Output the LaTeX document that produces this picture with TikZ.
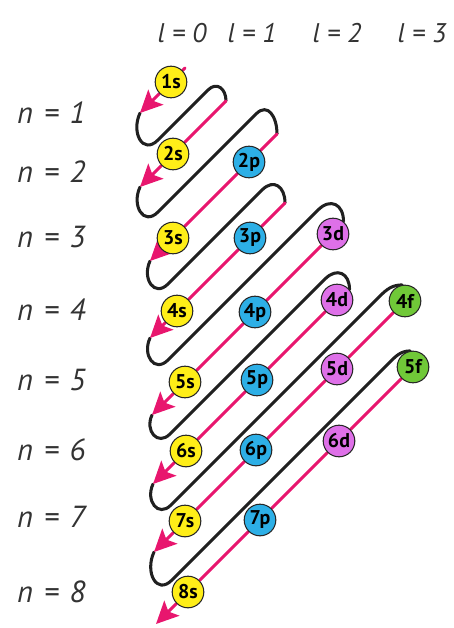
\documentclass[tikz,border=0pt]{standalone}
\usepackage{fontspec}
\setmainfont{PT Sans}
\usetikzlibrary{arrows.meta,backgrounds}

\definecolor{orbpink}{RGB}{232,22,110}
\definecolor{orbblack}{RGB}{32,32,32}
\definecolor{sfill}{RGB}{255,238,24}
\definecolor{pfill}{RGB}{45,175,230}
\definecolor{dfill}{RGB}{222,112,232}
\definecolor{ffill}{RGB}{112,200,56}

\newcommand{\widesp}{\spaceskip=0.36em\relax}

\tikzset{
  orb/.style={circle, draw=black!85, line width=0.9pt, minimum size=27pt,
    inner sep=0pt, font=\fontsize{17}{17}\selectfont\bfseries},
  sorb/.style={orb, fill=sfill},
  porb/.style={orb, fill=pfill},
  dorb/.style={orb, fill=dfill},
  forb/.style={orb, fill=ffill},
  pinkpath/.style={draw=orbpink, line width=2.7pt, line cap=round},
  pinkarrow/.style={pinkpath, -{Stealth[length=19pt,width=18pt,inset=4pt]}},
  blackpath/.style={draw=orbblack, line width=2.6pt, line cap=round},
  lbl/.style={font=\fontsize{23}{23}\selectfont\itshape, text=black!80, inner sep=0pt},
  nlbl/.style={lbl, anchor=west, font={\fontsize{26}{26}\selectfont\itshape\widesp}},
}

\begin{document}
\begin{tikzpicture}[x=0.03cm, y=0.03cm]
    \useasboundingbox (0,0) rectangle (453,-628);

    % quantum number labels
    \node[lbl] (l0) at (182,-33) {l = 0};
    \node[lbl] (l1) at (252,-33) {l = 1};
    \node[lbl] (l2) at (337,-33) {l = 2};
    \node[lbl] (l3) at (422,-33) {l = 3};

    \node[nlbl] (n1) at (17,-113) {n = 1};
    \node[nlbl] (n2) at (17,-172) {n = 2};
    \node[nlbl] (n3) at (17,-237) {n = 3};
    \node[nlbl] (n4) at (17,-310) {n = 4};
    \node[nlbl] (n5) at (17,-380) {n = 5};
    \node[nlbl] (n6) at (17,-450) {n = 6};
    \node[nlbl] (n7) at (17,-517) {n = 7};
    \node[nlbl] (n8) at (17,-592) {n = 8};

    % orbitals, one diagonal at a time
    \node[sorb] (1s) at (171,-82) {1s};
    \node[sorb] (2s) at (173,-154) {2s};
    \node[porb] (2p) at (249,-162) {2p};
    \node[sorb] (3s) at (173,-238) {3s};
    \node[porb] (3p) at (250,-238) {3p};
    \node[sorb] (4s) at (177,-311) {4s};
    \node[dorb] (3d) at (333,-234) {3d};
    \node[porb] (4p) at (255,-312) {4p};
    \node[sorb] (5s) at (185,-382) {5s};
    \node[dorb] (4d) at (337,-300) {4d};
    \node[porb] (5p) at (257,-380) {5p};
    \node[sorb] (6s) at (186,-451) {6s};
    \node[forb] (4f) at (405,-301) {4f};
    \node[dorb] (5d) at (337,-369) {5d};
    \node[porb] (6p) at (256,-450) {6p};
    \node[sorb] (7s) at (185,-521) {7s};
    \node[forb] (5f) at (413,-367) {5f};
    \node[dorb] (6d) at (339,-441) {6d};
    \node[porb] (7p) at (260,-520) {7p};
    \node[sorb] (8s) at (188,-592) {8s};

    % arrow tips, turning points
    \coordinate (Q1) at (185,-68);
    \coordinate (A1) at (140,-113);  \coordinate (B1) at (158,-140);
    \coordinate (P1) at (208,-90);   \coordinate (Q2) at (226,-101);
    \coordinate (A2) at (140,-187);  \coordinate (B2) at (158,-212);
    \coordinate (P2) at (256,-114);  \coordinate (Q3) at (277,-134);
    \coordinate (A3) at (150,-261);  \coordinate (B3) at (168,-284);
    \coordinate (P3) at (262,-190);  \coordinate (Q4) at (285,-203);
    \coordinate (A4) at (150,-338);  \coordinate (B4) at (168,-360);
    \coordinate (P4) at (318,-210);
    \coordinate (A5) at (152,-415);  \coordinate (B5) at (170,-434);
    \coordinate (P5) at (325,-279);
    \coordinate (A6) at (153,-484);  \coordinate (B6) at (171,-505);
    \coordinate (P6) at (380,-296);
    \coordinate (A7) at (154,-552);  \coordinate (B7) at (172,-580);
    \coordinate (P7) at (388,-364);
    \coordinate (A8) at (156,-624);

    \begin{pgfonlayer}{background}
    % black return loops
    \draw[blackpath] (A1) to[out=245, in=225, looseness=1.7] (B1) -- (P1)
        to[out=45, in=90, looseness=1.5] (Q2);
    \draw[blackpath] (A2) to[out=245, in=225, looseness=1.7] (B2) -- (P2)
        to[out=45, in=90, looseness=1.5] (Q3);
    \draw[blackpath] (A3) to[out=245, in=225, looseness=1.7] (B3) -- (P3)
        to[out=45, in=90, looseness=1.6] (Q4);
    \draw[blackpath] (A4) to[out=245, in=225, looseness=1.7] (B4) -- (P4)
        to[out=45, in=90, looseness=1.6] (3d.50);
    \draw[blackpath] (A5) to[out=245, in=225, looseness=1.7] (B5) -- (P5)
        to[out=45, in=90, looseness=1.6] (4d.40);
    \draw[blackpath] (A6) to[out=245, in=225, looseness=1.7] (B6) -- (P6)
        to[out=45, in=180] (4f.100);
    \draw[blackpath] (A7) to[out=245, in=225, looseness=1.7] (B7) -- (P7)
        to[out=45, in=180] (5f.100);

    % filling order, n + l = 1 ... 8
    \draw[pinkpath] (Q1) -- (1s);
    \draw[pinkarrow] (1s) -- (A1);
    \draw[pinkpath] (Q2) -- (2s);
    \draw[pinkarrow] (2s) -- (A2);
    \draw[pinkpath] (Q3) -- (2p);
    \draw[pinkpath] (2p) -- (3s);
    \draw[pinkarrow] (3s) -- (A3);
    \draw[pinkpath] (Q4) -- (3p);
    \draw[pinkpath] (3p) -- (4s);
    \draw[pinkarrow] (4s) -- (A4);
    \draw[pinkpath] (3d) -- (4p);
    \draw[pinkpath] (4p) -- (5s);
    \draw[pinkarrow] (5s) -- (A5);
    \draw[pinkpath] (4d) -- (5p);
    \draw[pinkpath] (5p) -- (6s);
    \draw[pinkarrow] (6s) -- (A6);
    \draw[pinkpath] (4f) -- (5d);
    \draw[pinkpath] (5d) -- (6p);
    \draw[pinkpath] (6p) -- (7s);
    \draw[pinkarrow] (7s) -- (A7);
    \draw[pinkpath] (5f) -- (6d);
    \draw[pinkpath] (6d) -- (7p);
    \draw[pinkpath] (7p) -- (8s);
    \draw[pinkarrow] (8s) -- (A8);
    \end{pgfonlayer}
\end{tikzpicture}
\end{document}
